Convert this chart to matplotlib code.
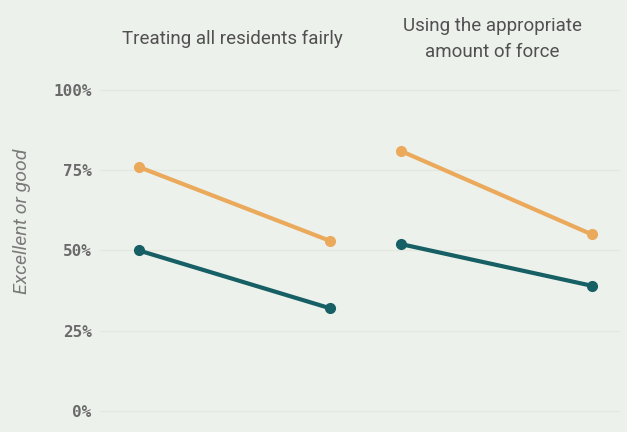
import matplotlib
matplotlib.use("Agg")
from matplotlib import pyplot as plt

# Data
panels = ["Treating all residents fairly", "Using the appropriate\namount of force"]
points = [0, 1]
orange_values = [[76, 53], [81, 55]]
teal_values = [[50, 32], [52, 39]]
y_ticks = [0, 25, 50, 75, 100]
y_tick_labels = ["0%", "25%", "50%", "75%", "100%"]

bg = "#edf1eb"
orange = "#eba95c"
teal = "#165f65"
grid_color = "#e3e8e0"
text_color = "#505050"

fig = plt.figure(figsize=(6.27, 4.32), dpi=100, facecolor=bg)

W, H = 627, 432
bottom = (H - 420.6) / H
height = (420.6 - 85.2) / H
ax_specs = [(100, 365, (-0.204, 1.183)), (365, 620, (-0.188, 1.147))]

axes = []
for i, (x0, x1, xlim) in enumerate(ax_specs):
    ax = fig.add_axes([x0 / W, bottom, (x1 - x0) / W, height])
    ax.set_facecolor(bg)
    ax.plot(points, orange_values[i], color=orange, lw=3, marker="o", ms=7,
            solid_capstyle="round", zorder=3)
    ax.plot(points, teal_values[i], color=teal, lw=3, marker="o", ms=7,
            solid_capstyle="round", zorder=3)
    ax.set_xlim(*xlim)
    ax.set_ylim(-3, 101.5)
    ax.set_yticks(y_ticks)
    ax.grid(axis="y", color=grid_color, lw=1)
    ax.set_axisbelow(True)
    ax.set_xticks([])
    for s in ax.spines.values():
        s.set_visible(False)
    ax.tick_params(axis="y", length=0, pad=6)
    ax.text(0.5, 1.0 + (85.2 - 39) / (420.6 - 85.2), panels[i], transform=ax.transAxes,
            ha="center", va="center", fontsize=13.5, color=text_color,
            family="Roboto", linespacing=1.6)
    axes.append(ax)

axes[0].set_yticklabels(y_tick_labels, family="DejaVu Sans Mono", fontsize=11.5,
                        color="#6a6a6a", fontweight="bold")
axes[1].set_yticklabels([])

fig.text(22 / W, 1 - 221 / H, "Excellent or good", rotation=90, ha="center", va="center",
         fontsize=14, style="italic", color="#7a7a7a", family="Roboto")

fig.savefig("out.png", dpi=100, facecolor=bg)
